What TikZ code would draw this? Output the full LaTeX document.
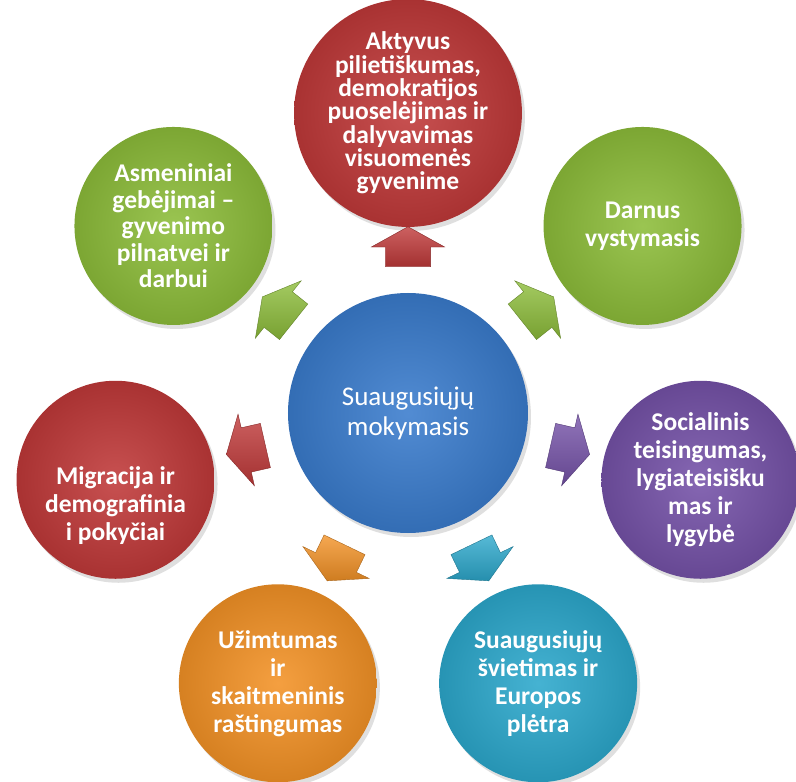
\documentclass[tikz,border=0pt]{standalone}
\usepackage{fontspec}
\setmainfont{Carlito}
\usetikzlibrary{positioning}
\usetikzlibrary{shapes,arrows}
\usetikzlibrary{shadows}

\definecolor{redc}{RGB}{192,57,57}
\definecolor{greenc}{RGB}{141,189,58}
\definecolor{bluec}{RGB}{58,124,205}
\definecolor{purplec}{RGB}{117,82,168}
\definecolor{orangec}{RGB}{243,146,38}
\definecolor{cyanc}{RGB}{44,168,204}

\begin{document}
\begin{tikzpicture}[x=1pt, y=1pt,
  topic/.style={circle, minimum size=198pt, inner sep=0pt, inner color=#1!88!white, outer color=#1!88!black,
    drop shadow={opacity=0.25, shadow xshift=3pt, shadow yshift=-4pt},
    text=white, font=\bfseries\fontsize{25.5}{28}\selectfont, align=center},
  topictext/.style={text=white, font=\bfseries\fontsize{25.5}{28}\selectfont, align=center, inner sep=0pt},
  spoke/.style={single arrow, single arrow head extend=14pt, single arrow tip angle=122,
    minimum height=40pt, inner xsep=0pt, inner ysep=22.5pt,
    top color=#1!80!white, bottom color=#1!85!black, draw=#1!70!black, line width=0.4pt}
]

% page
\fill[white] (-408,-369) rectangle (388,413);
\useasboundingbox (-408,-369) rectangle (388,413);

% hub
\node[topic=bluec, minimum size=240pt, font=\fontsize{27}{30}\selectfont] (hub) at (0,0) {Suaugusiųjų\\mokymasis};

% outer circles
\node[topic=redc, font=\bfseries\fontsize{25.5}{23.3}\selectfont] (civic) at (90:300)
  {Aktyvus\\pilietiškumas,\\demokratijos\\puoselėjimas ir\\dalyvavimas\\visuomenės\\gyvenime};
\node[topic=greenc, font=\bfseries\fontsize{25.5}{26.5}\selectfont] (skills) at (141.43:300)
  {Asmeniniai\\gebėjimai –\\gyvenimo\\pilnatvei ir\\darbui};
\node[topic=greenc] (sustain) at (38.57:300) {Darnus\\vystymasis};
\node[topic=redc] (migr) at (192.86:300) {};
\node[topictext] (migrtext) at ([yshift=-26pt]migr.center) {Migracija ir\\demografinia\\i pokyčiai};
\node[topic=purplec] (social) at (347.14:300)
  {Socialinis\\teisingumas,\\lygiateisišku\\mas ir\\lygybė};
\node[topic=orangec] (work) at (244.29:300) {Užimtumas\\ir\\skaitmeninis\\raštingumas};
\node[topic=cyanc] (europe) at (295.71:300) {Suaugusiųjų\\švietimas ir\\Europos\\plėtra};

% arrows
\node[spoke=redc, rotate=90] (arrcivic) at (90:160) {};
\node[spoke=greenc, rotate=141.43] (arrskills) at (141.43:160) {};
\node[spoke=greenc, rotate=38.57] (arrsustain) at (38.57:160) {};
\node[spoke=redc, rotate=192.86] (arrmigr) at (192.86:160) {};
\node[spoke=purplec, rotate=347.14] (arrsocial) at (347.14:160) {};
\node[spoke=orangec, rotate=244.29] (arrwork) at (244.29:160) {};
\node[spoke=cyanc, rotate=295.71] (arreurope) at (295.71:160) {};

\end{tikzpicture}
\end{document}
